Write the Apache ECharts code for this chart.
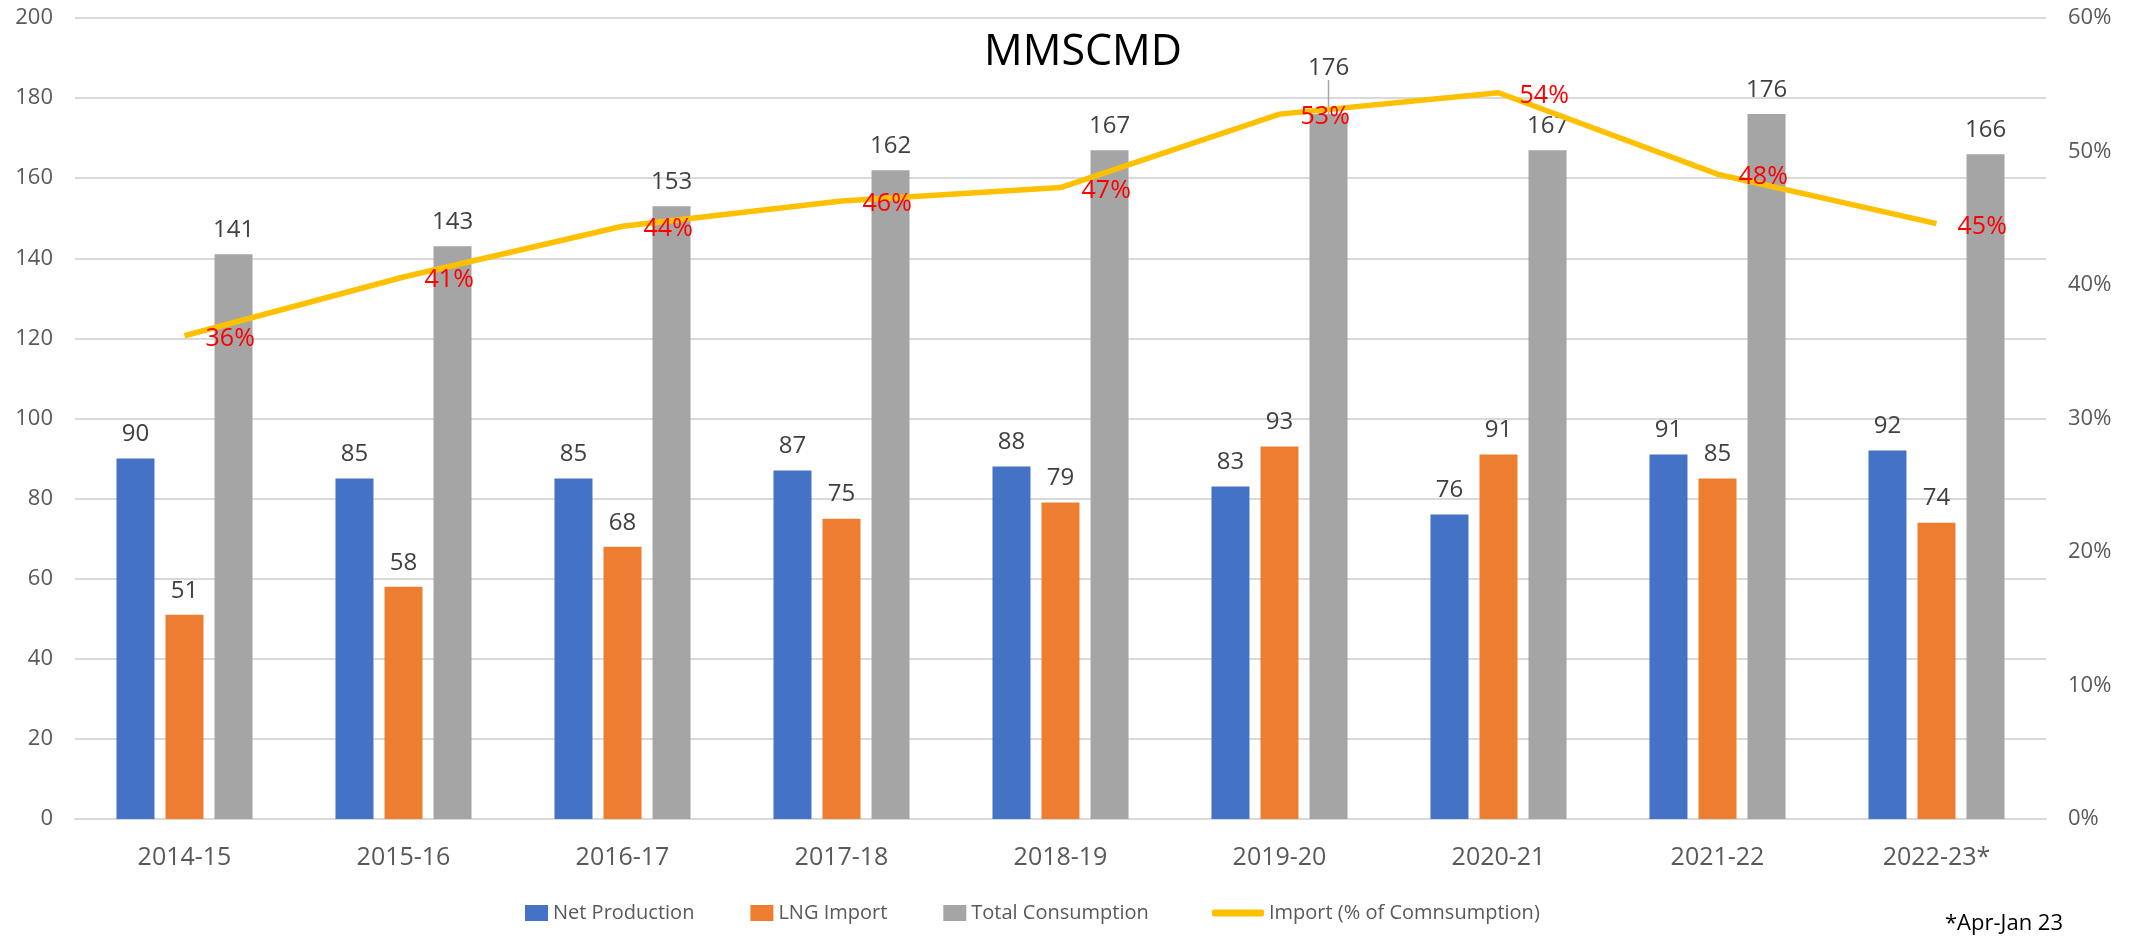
<!DOCTYPE html>
<html>
<head>
<meta charset="utf-8">
<title>MMSCMD</title>
<script src="https://cdn.jsdelivr.net/npm/echarts@6/dist/echarts.min.js"></script>
<style>
  html, body { margin: 0; padding: 0; background: #fff; }
  #main { width: 2129px; height: 938px; }
</style>
</head>
<body>
<div id="main"></div>
<script>
// 数据
var categories = ["2014-15", "2015-16", "2016-17", "2017-18", "2018-19", "2019-20", "2020-21", "2021-22", "2022-23*"];
var netProduction = [90, 85, 85, 87, 88, 83, 76, 91, 92];
var lngImport = [51, 58, 68, 75, 79, 93, 91, 85, 74];
var totalConsumption = [141, 143, 153, 162, 167, 176, 167, 176, 166];
var importShare = [36.2, 40.6, 44.4, 46.3, 47.3, 52.8, 54.4, 48.3, 44.6];

(function () {
  var myChart = echarts.init(document.getElementById("main"));
  var font = "Open Sans";

  var barLabel = {
    show: true,
    position: "top",
    distance: 12,
    color: "#404040",
    fontSize: 24,
    fontFamily: font
  };

  // 2019-20 的总消费标签被上移，只有它带引导线
  var totalData = totalConsumption.map(function (v, i) {
    if (i === 5) {
      return { value: v, labelLine: { show: true, lineStyle: { color: "#A5A5A5", width: 1.5 } } };
    }
    return v;
  });

  var option = {
    animation: false,
    textStyle: { fontFamily: font },
    title: {
      text: "MMSCMD",
      left: 1078,
      top: 26,
      textAlign: "center",
      textStyle: { color: "#000", fontSize: 43, fontWeight: "normal", fontFamily: font }
    },
    legend: [
      {
        left: 520,
        top: 898,
        itemWidth: 23,
        itemHeight: 16,
        itemGap: 56,
        icon: "rect",
        data: ["Net Production", "LNG Import", "Total Consumption"],
        textStyle: { color: "#595959", fontSize: 20, fontFamily: font }
      },
      {
        left: 1207,
        top: 898,
        itemWidth: 52,
        itemHeight: 7,
        icon: "roundRect",
        data: ["Import (% of Comnsumption)"],
        textStyle: { color: "#595959", fontSize: 20, fontFamily: font }
      }
    ],
    graphic: [
      {
        type: "text",
        right: 66,
        top: 913,
        style: { text: "*Apr-Jan 23", fill: "#000", font: "22px 'Open Sans'" }
      }
    ],
    grid: {
      left: 75,
      right: 83,
      top: 18,
      bottom: 119
    },
    xAxis: {
      type: "category",
      data: categories,
      axisTick: { show: false },
      axisLine: { lineStyle: { color: "#D9D9D9", width: 2 } },
      axisLabel: { color: "#595959", fontSize: 25, margin: 26, fontFamily: font }
    },
    yAxis: [
      {
        type: "value",
        min: 0,
        max: 200,
        interval: 20,
        axisLine: { show: false },
        axisTick: { show: false },
        axisLabel: { color: "#595959", fontSize: 22, margin: 22, fontFamily: font },
        splitLine: { lineStyle: { color: "#D9D9D9", width: 2 } }
      },
      {
        type: "value",
        min: 0,
        max: 60,
        interval: 10,
        axisLine: { show: false },
        axisTick: { show: false },
        splitLine: { show: false },
        axisLabel: { color: "#595959", fontSize: 22, margin: 22, fontFamily: font, formatter: "{value}%" }
      }
    ],
    series: [
      {
        name: "Net Production",
        type: "bar",
        barWidth: 38,
        barGap: "29%",
        itemStyle: { color: "#4472C4" },
        label: barLabel,
        data: netProduction
      },
      {
        name: "LNG Import",
        type: "bar",
        barWidth: 38,
        barGap: "29%",
        itemStyle: { color: "#ED7D31" },
        label: barLabel,
        data: lngImport
      },
      {
        name: "Total Consumption",
        type: "bar",
        barWidth: 38,
        barGap: "29%",
        itemStyle: { color: "#A5A5A5" },
        label: barLabel,
        labelLayout: function (params) {
          if (params.dataIndex === 5) {
            return { dy: -22 };
          }
        },
        data: totalData
      },
      {
        name: "Import (% of Comnsumption)",
        type: "line",
        yAxisIndex: 1,
        symbol: "circle",
        symbolSize: 0.1,
        showSymbol: true,
        z: 5,
        lineStyle: { color: "#FFC000", width: 5.5 },
        itemStyle: { color: "#FFC000" },
        label: {
          show: true,
          position: "right",
          distance: 21,
          offset: [0, 3],
          color: "#FF0000",
          fontSize: 25,
          fontFamily: font,
          formatter: function (p) {
            return Math.round(p.value) + "%";
          }
        },
        data: importShare
      }
    ]
  };

  myChart.setOption(option);
  window.addEventListener("resize", function () {
    myChart.resize();
  });
})();
</script>
</body>
</html>
